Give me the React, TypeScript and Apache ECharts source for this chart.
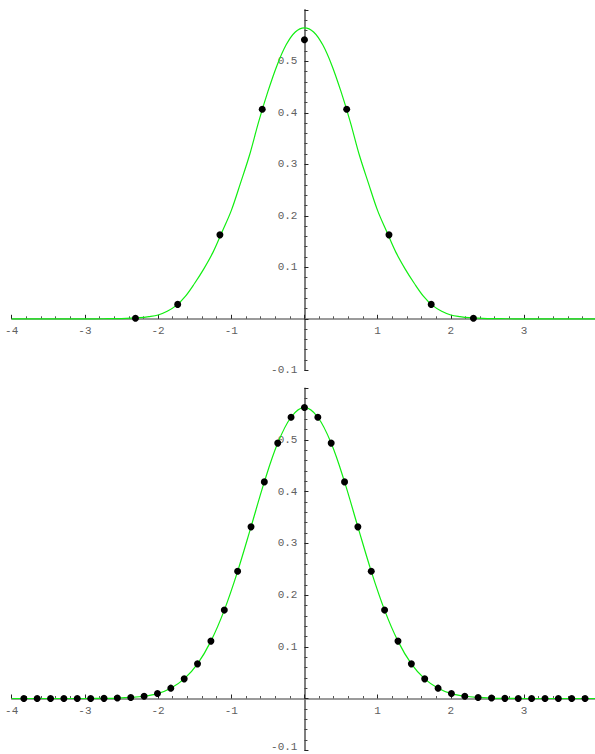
import React, { useEffect, useRef } from "react";
import * as echarts from "echarts";

// Top panel: coarse sampling
const topPointX = [-2.309, -1.732, -1.155, -0.577, 0, 0.577, 1.155, 1.732, 2.309];
const topPointY = [0.001, 0.028, 0.163, 0.407, 0.542, 0.407, 0.163, 0.028, 0.001];

const topCurveX = [-4, -3.5, -3, -2.75, -2.5, -2.25, -2.125, -2, -1.875, -1.75, -1.625, -1.5, -1.375, -1.25, -1.125,
  -1, -0.875, -0.75, -0.625, -0.5, -0.375, -0.25, -0.125, 0,
  0.125, 0.25, 0.375, 0.5, 0.625, 0.75, 0.875, 1, 1.125, 1.25, 1.375, 1.5, 1.625, 1.75, 1.875,
  2, 2.125, 2.25, 2.5, 2.75, 3, 3.5, 4];
const topCurveY = [0, 0, 0, 0.0001, 0.0005, 0.0022, 0.0042, 0.0074, 0.0145, 0.026, 0.044, 0.069, 0.097, 0.129, 0.169,
  0.21, 0.263, 0.318, 0.383, 0.441, 0.492, 0.532, 0.557, 0.565,
  0.557, 0.532, 0.492, 0.441, 0.383, 0.318, 0.263, 0.21, 0.169, 0.129, 0.097, 0.069, 0.044, 0.026, 0.0145,
  0.0074, 0.0042, 0.0022, 0.0005, 0.0001, 0, 0, 0];

// Bottom panel: fine sampling
const bottomPointX = [-3.834, -3.652, -3.469, -3.287, -3.104, -2.921, -2.739, -2.556, -2.373, -2.191, -2.008,
  -1.826, -1.643, -1.461, -1.278, -1.095, -0.913, -0.730, -0.548, -0.365, -0.183, 0,
  0.183, 0.365, 0.548, 0.730, 0.913, 1.095, 1.278, 1.461, 1.643, 1.826,
  2.008, 2.191, 2.373, 2.556, 2.739, 2.921, 3.104, 3.287, 3.469, 3.652, 3.834];
const bottomPointY = [0, 0, 0, 0, 0, 0.0001, 0.0003, 0.0008, 0.002, 0.0044, 0.0095,
  0.020, 0.038, 0.067, 0.111, 0.171, 0.246, 0.332, 0.419, 0.494, 0.544, 0.563,
  0.544, 0.494, 0.419, 0.332, 0.246, 0.171, 0.111, 0.067, 0.038, 0.020,
  0.0095, 0.0044, 0.002, 0.0008, 0.0003, 0.0001, 0, 0, 0, 0, 0];
const bottomCurveEnds = [[-4, 0], [4, 0]];

const X_MIN = -4;
const X_MAX = 3.97;
const Y_MIN = -0.1;
const Y_MAX = 0.6;

const FONT = "Liberation Mono";

const GRIDS = [
  { left: 11.7, width: 583.3, top: 9.8, height: 360.5 },
  { left: 11.7, width: 583.3, top: 388.3, height: 361.9 },
];

function xAxisCfg(gridIndex: number) {
  const g = GRIDS[gridIndex];
  // move the axis up to y = 0
  const offset = -((0 - Y_MIN) / (Y_MAX - Y_MIN)) * g.height;
  return {
    type: "value" as const,
    gridIndex,
    position: "bottom" as const,
    offset,
    min: X_MIN,
    max: X_MAX,
    interval: 1,
    axisLine: { onZero: false, lineStyle: { color: "#7a7a7a", width: 1.5 } },
    axisTick: { inside: true, length: 4, lineStyle: { color: "#222", width: 1 } },
    minorTick: { show: true, splitNumber: 5, length: 2.5, lineStyle: { color: "#555", width: 1 } },
    splitLine: { show: false },
    axisLabel: {
      showMaxLabel: false,
      margin: 7,
      color: "#606060",
      fontFamily: FONT,
      fontSize: 11,
      formatter: (v: number) => (Math.abs(v) < 1e-9 ? "" : String(v)),
    },
  };
}

function yAxisCfg(gridIndex: number) {
  const g = GRIDS[gridIndex];
  // move the axis right to x = 0
  const offset = -((0 - X_MIN) / (X_MAX - X_MIN)) * g.width;
  return {
    type: "value" as const,
    gridIndex,
    position: "left" as const,
    offset,
    min: Y_MIN,
    max: Y_MAX,
    interval: 0.1,
    axisLine: { onZero: false, lineStyle: { color: "#555", width: 1.5 } },
    axisTick: { inside: true, length: 4, lineStyle: { color: "#222", width: 1 } },
    minorTick: { show: true, splitNumber: 5, length: 3, lineStyle: { color: "#444", width: 1 } },
    splitLine: { show: false },
    axisLabel: {
      margin: 7,
      color: "#606060",
      fontFamily: FONT,
      fontSize: 11,
      rich: {
        lo: { color: "#606060", fontFamily: FONT, fontSize: 11, padding: [0, 0, 6, 0] },
      },
      formatter: (v: number) => {
        if (Math.abs(v) < 1e-9 || v > 0.55) return "";
        if (v < 0 && gridIndex === 1) return "{lo|" + v.toFixed(1) + "}";
        return v.toFixed(1);
      },
    },
  };
}

export default function App() {
  const ref = useRef<HTMLDivElement>(null);
  useEffect(() => {
    if (!ref.current) return;
    const chart = echarts.init(ref.current, null, { renderer: "svg" });
    const zip = (xs: number[], ys: number[]) => xs.map((x, i) => [x, ys[i]]);
    const bottomCurve = [bottomCurveEnds[0], ...zip(bottomPointX, bottomPointY), bottomCurveEnds[1]];
    chart.setOption({
      animation: false,
      backgroundColor: "#ffffff",
      textStyle: { fontFamily: FONT },
      grid: GRIDS.map((g) => ({ ...g, containLabel: false, outerBoundsMode: "none" })),
      xAxis: [xAxisCfg(0), xAxisCfg(1)],
      yAxis: [yAxisCfg(0), yAxisCfg(1)],
      series: [
        {
          type: "line",
          xAxisIndex: 0,
          yAxisIndex: 0,
          data: zip(topCurveX, topCurveY),
          smooth: 0.35,
          showSymbol: false,
          lineStyle: { color: "#11ee11", width: 1.2 },
          z: 3,
        },
        {
          type: "scatter",
          xAxisIndex: 0,
          yAxisIndex: 0,
          data: zip(topPointX, topPointY),
          symbol: "circle",
          symbolSize: 7,
          itemStyle: { color: "#000", opacity: 1 },
          z: 5,
        },
        {
          type: "line",
          xAxisIndex: 1,
          yAxisIndex: 1,
          data: bottomCurve,
          smooth: 0.35,
          showSymbol: false,
          lineStyle: { color: "#11ee11", width: 1.2 },
          z: 3,
        },
        {
          type: "scatter",
          xAxisIndex: 1,
          yAxisIndex: 1,
          data: zip(bottomPointX, bottomPointY),
          symbol: "circle",
          symbolSize: 7,
          itemStyle: { color: "#000", opacity: 1 },
          z: 5,
        },
      ],
    });
    return () => chart.dispose();
  }, []);
  return (
    <div
      ref={ref}
      style={{ position: "fixed", left: 0, top: 0, width: 595, height: 754, background: "#fff" }}
    />
  );
}
